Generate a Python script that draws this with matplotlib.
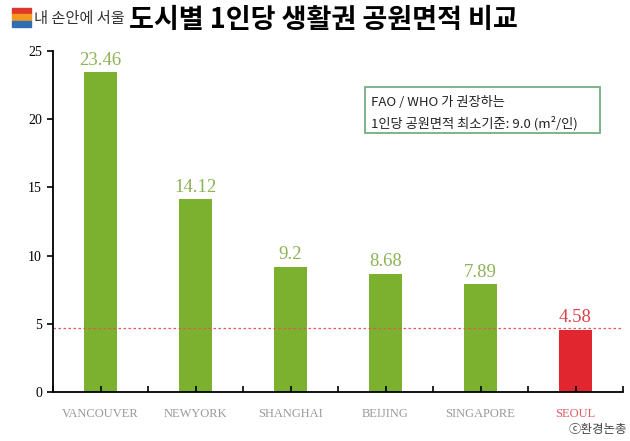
import matplotlib
matplotlib.use('Agg')
import matplotlib.pyplot as plt
from matplotlib.patches import Rectangle

plt.rcParams['font.family'] = ['Noto Sans CJK KR', 'DejaVu Sans']

cities = ['VANCOUVER', 'NEWYORK', 'SHANGHAI', 'BEIJING', 'SINGAPORE', 'SEOUL']
area = [23.46, 14.12, 9.2, 8.68, 7.89, 4.58]
yticks = [0, 5, 10, 15, 20, 25]
title = '도시별 1인당 생활권 공원면적 비교'
note1 = 'FAO / WHO 가 권장하는'
note2 = '1인당 공원면적 최소기준: 9.0 (m²/인)'

green = '#7bb12f'
red = '#e1262f'
colors = [green] * 5 + [red]
label_colors = ['#8cb356'] * 5 + ['#d9434b']
name_colors = ['#999999'] * 5 + ['#e05a62']

fig = plt.figure(figsize=(6.3, 4.41), dpi=100)
ax = fig.add_axes([53/630, 1-392/441, 570/630, 341/441])

x = range(len(cities))
ax.bar(x, area, width=0.34, color=colors)
for i, v in enumerate(area):
    ax.text(i, v + 0.25, f'{v:g}', ha='center', va='bottom', fontsize=13.5,
            color=label_colors[i], family='Liberation Serif')
    ax.text(i, -1.2, cities[i], ha='center', va='top', fontsize=9,
            color=name_colors[i], family='Liberation Serif')

ax.axhline(area[-1] + 0.1, color='#e0575d', lw=0.9, ls=(0, (2, 2)))

ax.set_xlim(-0.5, 5.5)
ax.set_ylim(0, 25)
ax.set_yticks(yticks)
ax.set_yticklabels([str(t) for t in yticks], family='Liberation Serif', fontsize=10)
ax.set_xticks([i * 0.5 - 0.5 for i in range(13)])
ax.set_xticklabels([])
ax.tick_params(axis='x', direction='in', length=4, width=1.2)
ax.tick_params(axis='y', direction='out', length=4, width=1.2, pad=4)
for s in ['top', 'right']:
    ax.spines[s].set_visible(False)
for s in ['left', 'bottom']:
    ax.spines[s].set_linewidth(1.3)

# recommendation box
fig.patches.append(Rectangle((365/630, 1-133/441), 235/630, 46/441,
                             transform=fig.transFigure, fill=False,
                             ec='#6fb07f', lw=1.3))
fig.text(371/630, 1-103/441, note1, fontsize=9.5, va='center', color='#222222')
fig.text(371/630, 1-123/441, note2, fontsize=9.5, va='center', color='#222222')

# header
fig.patches.append(Rectangle((12/630, 1-14/441), 19/630, 6/441, transform=fig.transFigure, color='#e0372c'))
fig.patches.append(Rectangle((12/630, 1-21/441), 19/630, 7/441, transform=fig.transFigure, color='#f39a1e'))
fig.patches.append(Rectangle((12/630, 1-27/441), 19/630, 6/441, transform=fig.transFigure, color='#2f6db5'))
fig.text(34/630, 1-18/441, '내 손안에 서울', fontsize=11, va='center', color='#333333')
fig.text(323/630, 1-20/441, title, fontsize=19.5, fontweight='heavy', ha='center', va='center')
fig.text(627/630, 1-430/441, 'ⓒ환경논총', fontsize=9, ha='right', va='center', color='#444444')

fig.savefig('out.png', dpi=100)
